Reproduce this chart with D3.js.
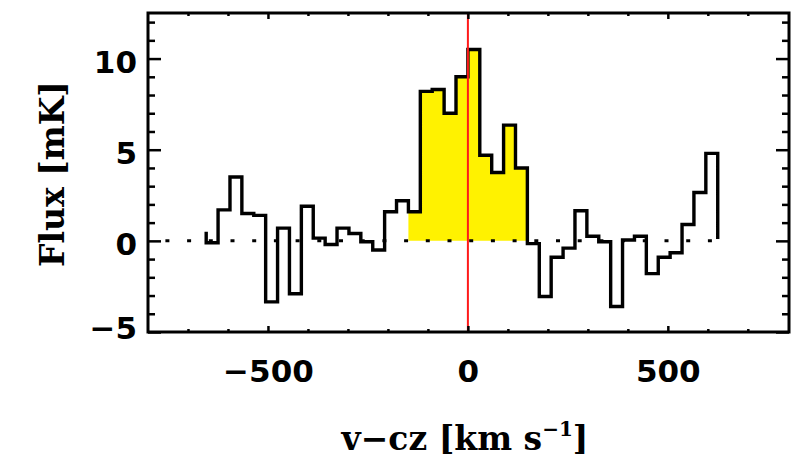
<!DOCTYPE html>
<html><head><meta charset="utf-8">
<script src="https://cdn.jsdelivr.net/npm/d3@7"></script>
<style>body{margin:0;background:#fff}svg{display:block}</style>
</head><body><svg id="c" width="806" height="457"></svg>
<script>
// ---- data ----
const binWidth = 29.75; // km/s
const velocity = [-639.6,-609.9,-580.1,-550.4,-520.6,-490.9,-461.1,-431.4,-401.6,-371.9,-342.1,-312.4,-282.6,-252.9,-223.1,-193.4,-163.6,-133.9,-104.1,-74.4,-44.6,-14.9,14.9,44.6,74.4,104.1,133.9,163.6,193.4,223.1,252.9,282.6,312.4,342.1,371.9,401.6,431.4,461.1,490.9,520.6,550.4,580.1,609.9];
const flux = [-0.1,1.7,3.5,1.5,1.4,-3.35,0.7,-2.9,1.9,0.15,-0.2,0.7,0.4,-0.05,-0.5,1.6,2.2,1.6,8.2,8.3,7.0,9.0,10.5,4.7,3.75,6.35,4.0,-0.15,-3.05,-0.9,-0.4,1.65,0.25,-0.05,-3.6,0.05,0.25,-1.8,-0.9,-0.65,0.9,2.65,4.8];
const fluxLeadIn = 0.4, fluxLeadOut = 0.2;
const lineWindow = [-150, 150]; // km/s, shaded line region
const xDomain = [-800, 803];
const yDomain = [-5, 12.5];
const xMajorTicks = [-500, 0, 500];
const xMinorTicks = [-700,-600,-400,-300,-200,-100,100,200,300,400,600,700];
const yMajorTicks = [-5, 0, 5, 10];
const yMinorTicks = [-4,-3,-2,-1,1,2,3,4,6,7,8,9,11,12];
const xTitle = "v\u2212cz [km s", xTitleSup = "\u22121", xTitleEnd = "]";
const yTitle = "Flux [mK]";

// ---- layout ----
const L = 148, R = 789, T = 13, B = 332;
const svg = d3.select("#c");
const x = d3.scaleLinear().domain(xDomain).range([L, R]);
const y = d3.scaleLinear().domain(yDomain).range([B, T]);

// step points
const edges = velocity.map((v, i) => v - binWidth / 2);
edges.push(velocity[velocity.length - 1] + binWidth / 2);
const pts = [[edges[0], fluxLeadIn]];
flux.forEach((f, i) => pts.push([edges[i], f]));
pts.push([edges[edges.length - 1], flux[flux.length - 1]]);
pts.push([edges[edges.length - 1], fluxLeadOut]);

// yellow fill
const fillPts = [];
velocity.forEach((v, i) => {
  if (v >= lineWindow[0] && v <= lineWindow[1]) fillPts.push([edges[i], flux[i], edges[i + 1]]);
});
const fp = fillPts.map(d => [d[0], d[1]]);
fp.push([fillPts[fillPts.length - 1][2], fillPts[fillPts.length - 1][1]]);
svg.append("path")
  .attr("d", d3.area().curve(d3.curveStepAfter).x(d => x(d[0])).y0(y(0)).y1(d => y(d[1]))(fp))
  .attr("fill", "#fff200");

// dotted zero line
svg.append("line")
  .attr("x1", x(-800)).attr("x2", x(630)).attr("y1", y(0)).attr("y2", y(0))
  .attr("stroke", "#000").attr("stroke-width", 3)
  .attr("stroke-dasharray", "4,17.7").attr("stroke-dashoffset", 4.3);

// histogram
svg.append("path")
  .attr("d", d3.line().curve(d3.curveStepAfter).x(d => x(d[0])).y(d => y(d[1]))(pts))
  .attr("fill", "none").attr("stroke", "#000").attr("stroke-width", 3.4)
  .attr("stroke-linejoin", "miter").attr("stroke-linecap", "square");

// red line at 0
svg.append("line")
  .attr("x1", x(0)).attr("x2", x(0)).attr("y1", T).attr("y2", B)
  .attr("stroke", "#ff1a1a").attr("stroke-width", 2);

// axes
function styleAxis(g) {
  g.select(".domain").remove();
  g.selectAll(".tick line").attr("stroke", "#000").attr("stroke-width", 2.5);
  g.selectAll("text").attr("font-family", "'DejaVu Sans', sans-serif")
    .attr("font-weight", "bold").attr("font-size", 31).attr("fill", "#000");
}
const fmt = d3.format("d");
svg.append("g").attr("transform", `translate(0,${B})`)
  .call(d3.axisBottom(x).tickValues(xMajorTicks).tickSize(-6).tickPadding(28).tickFormat(fmt)).call(styleAxis);
svg.append("g").attr("transform", `translate(0,${B})`)
  .call(d3.axisBottom(x).tickValues(xMinorTicks).tickSize(-3).tickFormat("")).call(styleAxis);
svg.append("g").attr("transform", `translate(0,${T})`)
  .call(d3.axisTop(x).tickValues(xMajorTicks).tickSize(-6).tickFormat("")).call(styleAxis);
svg.append("g").attr("transform", `translate(0,${T})`)
  .call(d3.axisTop(x).tickValues(xMinorTicks).tickSize(-3).tickFormat("")).call(styleAxis);
const gl = svg.append("g").attr("transform", `translate(${L},0)`)
  .call(d3.axisLeft(y).tickValues(yMajorTicks).tickSize(-13).tickPadding(11).tickFormat(fmt)).call(styleAxis);
gl.selectAll("text").attr("dy", d => d === yDomain[0] ? "0.2em" : "0.45em");
svg.append("g").attr("transform", `translate(${L},0)`)
  .call(d3.axisLeft(y).tickValues(yMinorTicks).tickSize(-7).tickFormat("")).call(styleAxis);
svg.append("g").attr("transform", `translate(${R},0)`)
  .call(d3.axisRight(y).tickValues(yMajorTicks).tickSize(-13).tickFormat("")).call(styleAxis);
svg.append("g").attr("transform", `translate(${R},0)`)
  .call(d3.axisRight(y).tickValues(yMinorTicks).tickSize(-7).tickFormat("")).call(styleAxis);

// frame
svg.append("rect").attr("x", L).attr("y", T).attr("width", R - L).attr("height", B - T)
  .attr("fill", "none").attr("stroke", "#000").attr("stroke-width", 3);

// titles
const xt = svg.append("text").attr("x", 465).attr("y", 450).attr("text-anchor", "middle")
  .attr("font-family", "'DejaVu Serif', serif").attr("font-weight", "bold").attr("font-size", 33).attr("fill", "#000");
xt.append("tspan").text(xTitle);
xt.append("tspan").attr("font-size", 20).attr("dy", -14).text(xTitleSup);
xt.append("tspan").attr("dy", 14).text(xTitleEnd);

svg.append("text").attr("transform", "translate(64,174) rotate(-90)").attr("text-anchor", "middle")
  .attr("font-family", "'DejaVu Serif', serif").attr("font-weight", "bold").attr("font-size", 33).attr("fill", "#000")
  .text(yTitle);
</script></body></html>
